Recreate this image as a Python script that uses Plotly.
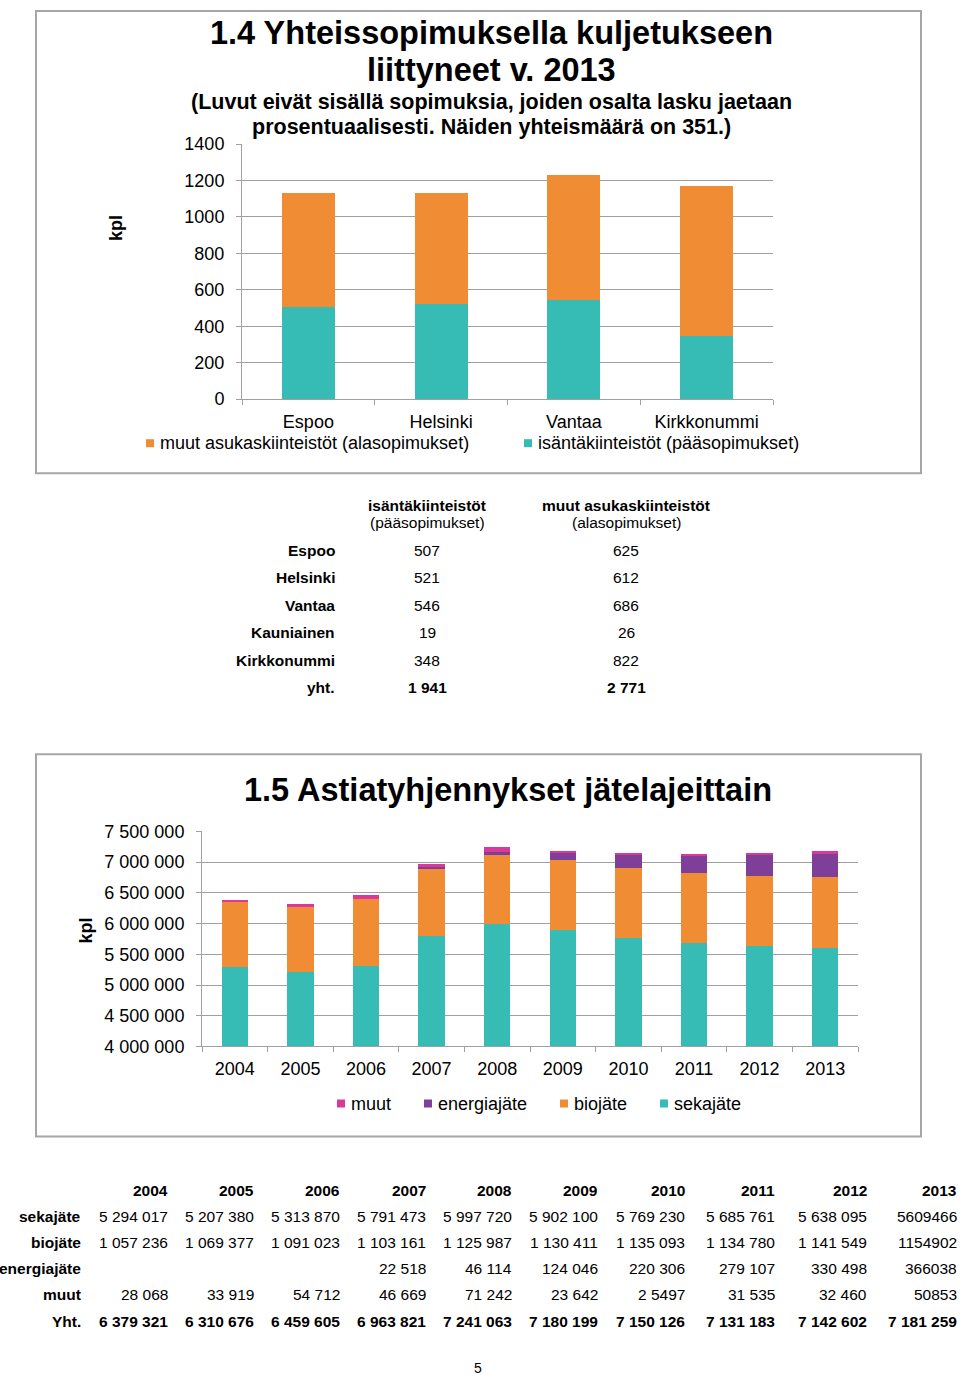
import plotly.graph_objects as go

W, H = 960, 1375

# ---------- Data: chart 1.4 ----------
cities = ["Espoo", "Helsinki", "Vantaa", "Kirkkonummi"]
isanta = [507, 521, 546, 348]          # isäntäkiinteistöt (pääsopimukset)
muut_asukas = [625, 612, 686, 822]     # muut asukaskiinteistöt (alasopimukset)
y1_ticks = [0, 200, 400, 600, 800, 1000, 1200, 1400]

# table 1
t1_rows = ["Espoo", "Helsinki", "Vantaa", "Kauniainen", "Kirkkonummi", "yht."]
t1_isanta = ["507", "521", "546", "19", "348", "1 941"]
t1_muut = ["625", "612", "686", "26", "822", "2 771"]

# ---------- Data: chart 1.5 ----------
years = ["2004", "2005", "2006", "2007", "2008", "2009", "2010", "2011", "2012", "2013"]
sekajate = [5294017, 5207380, 5313870, 5791473, 5997720, 5902100, 5769230, 5685761, 5638095, 5609466]
biojate = [1057236, 1069377, 1091023, 1103161, 1125987, 1130411, 1135093, 1134780, 1141549, 1154902]
energiajate = [0, 0, 0, 22518, 46114, 124046, 220306, 279107, 330498, 366038]
muut = [28068, 33919, 54712, 46669, 71242, 23642, 25497, 31535, 32460, 50853]
y2_ticks = [4000000, 4500000, 5000000, 5500000, 6000000, 6500000, 7000000, 7500000]
y2_labels = ["4 000 000", "4 500 000", "5 000 000", "5 500 000", "6 000 000", "6 500 000", "7 000 000", "7 500 000"]

# table 2 (as printed)
t2_rows = ["sekajäte", "biojäte", "energiajäte", "muut", "Yht."]
t2_seka = ["5 294 017", "5 207 380", "5 313 870", "5 791 473", "5 997 720", "5 902 100", "5 769 230", "5 685 761", "5 638 095", "5609466"]
t2_bio = ["1 057 236", "1 069 377", "1 091 023", "1 103 161", "1 125 987", "1 130 411", "1 135 093", "1 134 780", "1 141 549", "1154902"]
t2_energia = ["", "", "", "22 518", "46 114", "124 046", "220 306", "279 107", "330 498", "366038"]
t2_muut = ["28 068", "33 919", "54 712", "46 669", "71 242", "23 642", "2 5497", "31 535", "32 460", "50853"]
t2_yht = ["6 379 321", "6 310 676", "6 459 605", "6 963 821", "7 241 063", "7 180 199", "7 150 126", "7 131 183", "7 142 602", "7 181 259"]

TEAL = "#36bbb5"
ORANGE = "#f08c33"
PURPLE = "#7f3f98"
PINK = "#d9399a"
GRID = "#a0a0a0"
FONT = "Liberation Sans, Arial, sans-serif"


def fx(px):
    return px / W


def fy(py):
    # vertical page position (pixels from top) -> paper fraction
    py = (py - 10) / 0.985
    py = max(py, 1)
    return 1 - py / H


fig = go.Figure()

# chart 1 bars
fig.add_trace(go.Bar(x=cities, y=isanta, marker_color=TEAL, marker_line_width=0,
                     name="isäntäkiinteistöt (pääsopimukset)", xaxis="x", yaxis="y", showlegend=False))
fig.add_trace(go.Bar(x=cities, y=muut_asukas, marker_color=ORANGE, marker_line_width=0,
                     name="muut asukaskiinteistöt (alasopimukset)", xaxis="x", yaxis="y", showlegend=False))

# chart 2 bars
for vals, col, nm in [(sekajate, TEAL, "sekajäte"), (biojate, ORANGE, "biojäte"),
                      (energiajate, PURPLE, "energiajäte"), (muut, PINK, "muut")]:
    fig.add_trace(go.Bar(x=years, y=vals, marker_color=col, marker_line_width=0, name=nm,
                         xaxis="x2", yaxis="y2", showlegend=False))

axis_common = dict(showline=True, linecolor=GRID, linewidth=1, ticks="outside", ticklen=5,
                   tickcolor=GRID, tickfont=dict(family=FONT, size=18, color="#000"))

fig.update_layout(
    width=W, height=H, margin=dict(l=0, r=0, t=0, b=0),
    paper_bgcolor="white", plot_bgcolor="white",
    barmode="stack", bargap=0.6,
    font=dict(family=FONT, color="#000"),
    xaxis=dict(domain=[fx(242), fx(773)], anchor="y", tickson="boundaries", showgrid=False,
               ticklabelstandoff=6, **axis_common),
    yaxis=dict(domain=[fy(399), fy(144)], anchor="x", range=[0, 1400], tickvals=y1_ticks,
               showgrid=True, gridcolor=GRID, gridwidth=1, zeroline=False, ticklabelstandoff=8, **axis_common),
    xaxis2=dict(domain=[fx(202), fx(858)], anchor="y2", tickson="boundaries", showgrid=False,
                ticklabelstandoff=6, **axis_common),
    yaxis2=dict(domain=[fy(1046), fy(831)], anchor="x2", range=[4000000, 7500000], tickvals=y2_ticks,
                ticktext=y2_labels, showgrid=True, gridcolor=GRID, gridwidth=1, zeroline=False,
                ticklabelstandoff=8, **axis_common),
)

shapes = []
ann = []

# frames
for (x0, y0, x1, y1) in [(36, 2, 921, 473), (36, 754, 921, 1136)]:
    shapes.append(dict(type="rect", xref="paper", yref="paper", x0=fx(x0), x1=fx(x1), y0=fy(y0), y1=fy(y1),
                       line=dict(color="#a6a6a6", width=2), fillcolor="rgba(0,0,0,0)", layer="below"))


def text(px, py, s, size, bold=False, anchor="center", angle=0):
    ann.append(dict(xref="paper", yref="paper", x=fx(px), y=fy(py), text=(f"<b>{s}</b>" if bold else s),
                    showarrow=False, xanchor=anchor, yanchor="middle", textangle=angle,
                    font=dict(family=FONT, size=size, color="#000")))


# chart 1 titles
text(491, 33, "1.4 Yhteissopimuksella kuljetukseen", 32.5, True)
text(491, 70, "liittyneet v. 2013", 32.5, True)
text(491, 102, "(Luvut eivät sisällä sopimuksia, joiden osalta lasku jaetaan", 21.5, True)
text(491, 127, "prosentuaalisesti. Näiden yhteismäärä on 351.)", 21.5, True)
text(116, 228, "kpl", 18, True, angle=-90)


def legend_item(sx, py, col, label):
    shapes.append(dict(type="rect", xref="paper", yref="paper", x0=fx(sx), x1=fx(sx + 8),
                       y0=fy(py + 4), y1=fy(py - 4), fillcolor=col, line=dict(width=0)))
    text(sx + 12, py, label, 18, anchor="left")


legend_item(146, 443, ORANGE, "muut asukaskiinteistöt (alasopimukset)")
legend_item(524, 443, TEAL, "isäntäkiinteistöt (pääsopimukset)")

# table 1
text(427, 505, "isäntäkiinteistöt", 15.5, True)
text(427, 522, "(pääsopimukset)", 15.5)
text(626, 505, "muut asukaskiinteistöt", 15.5, True)
text(626, 522, "(alasopimukset)", 15.5)
row_y1 = [550, 577, 605, 632, 660, 687]
for i, r in enumerate(t1_rows):
    last = i == len(t1_rows) - 1
    text(337, row_y1[i], r, 15.5, True, anchor="right")
    text(427, row_y1[i], t1_isanta[i], 15.5, last)
    text(626, row_y1[i], t1_muut[i], 15.5, last)

# chart 2 title etc.
text(508, 790, "1.5 Astiatyhjennykset jätelajeittain", 32.5, True)
text(86, 930, "kpl", 18, True, angle=-90)
legend_item(337, 1103, PINK, "muut")
legend_item(424, 1103, PURPLE, "energiajäte")
legend_item(560, 1103, ORANGE, "biojäte")
legend_item(660, 1103, TEAL, "sekajäte")

# table 2
col_x = [170, 256, 342, 428, 514, 600, 687, 777, 869, 959]
for j, yv in enumerate(years):
    text(col_x[j], 1190, yv, 15.5, True, anchor="right")
row_y2 = [1216, 1242, 1268, 1294, 1321]
t2_vals = [t2_seka, t2_bio, t2_energia, t2_muut, t2_yht]
for i, r in enumerate(t2_rows):
    last = i == len(t2_rows) - 1
    text(83, row_y2[i], r, 15.5, True, anchor="right")
    for j in range(len(years)):
        if t2_vals[i][j]:
            text(col_x[j], row_y2[i], t2_vals[i][j], 15.5, last, anchor="right")

text(478, 1367, "5", 14)

fig.update_layout(shapes=shapes, annotations=ann)
fig.write_html("out.html")
